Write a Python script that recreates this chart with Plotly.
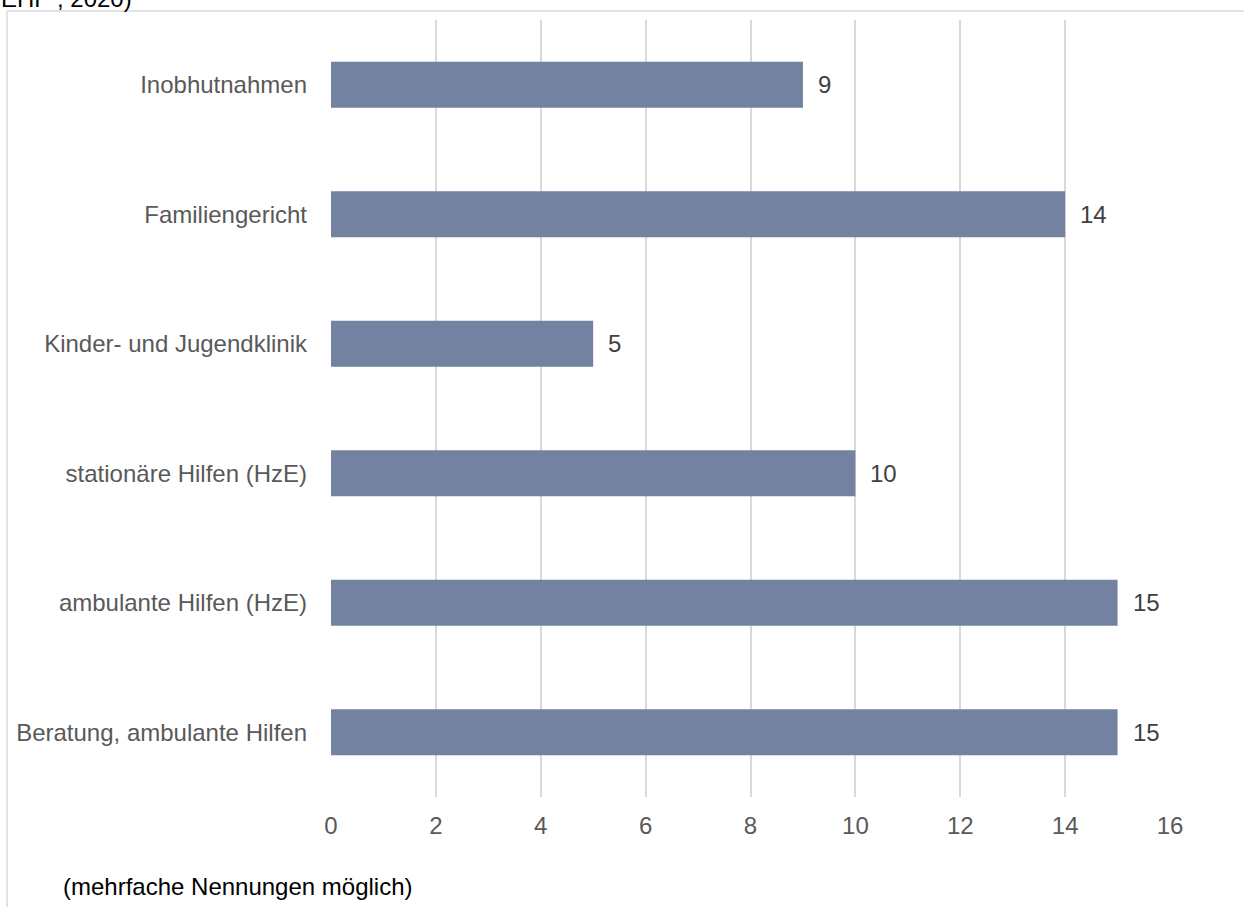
import plotly.graph_objects as go

categories = [
    "Inobhutnahmen",
    "Familiengericht",
    "Kinder- und Jugendklinik",
    "stationäre Hilfen (HzE)",
    "ambulante Hilfen (HzE)",
    "Beratung, ambulante Hilfen",
]
values = [9, 14, 5, 10, 15, 15]
x_ticks = [0, 2, 4, 6, 8, 10, 12, 14, 16]
note_text = "(mehrfache Nennungen möglich)"
top_text = "EHF“, 2020)"

W, H = 1244, 907
L, R, T, B = 331, 74, 20, 110
pw = W - L - R
ph = H - T - B


def px_x(px):
    return (px - L) / pw


def px_y(py):
    return (H - B - py) / ph


FONT = "Liberation Sans, Arial, sans-serif"
FS = 24

fig = go.Figure()
fig.add_trace(go.Bar(
    y=categories,
    x=values,
    orientation="h",
    width=0.355,
    marker=dict(color="#7282a0", line=dict(width=0)),
    hoverinfo="skip",
))

annotations = []
for c, v in zip(categories, values):
    annotations.append(dict(
        x=v, y=c, xref="x", yref="y", text=str(v), showarrow=False,
        xanchor="left", yanchor="middle", xshift=13,
        font=dict(family=FONT, size=FS, color="#404040"),
    ))

annotations.append(dict(
    x=px_x(61), y=px_y(886), xref="paper", yref="paper", text=note_text,
    showarrow=False, xanchor="left", yanchor="middle",
    font=dict(family=FONT, size=FS, color="#000000"),
))
annotations.append(dict(
    x=px_x(-1), y=px_y(14), xref="paper", yref="paper", text=top_text,
    showarrow=False, xanchor="left", yanchor="bottom",
    font=dict(family=FONT, size=FS, color="#000000"),
))

shapes = [
    dict(type="line", xref="paper", yref="paper",
         x0=px_x(7), x1=px_x(1300), y0=px_y(11), y1=px_y(11),
         line=dict(color="#d9d9d9", width=1.5), layer="below"),
    dict(type="line", xref="paper", yref="paper",
         x0=px_x(7), x1=px_x(7), y0=px_y(11), y1=px_y(960),
         line=dict(color="#d9d9d9", width=1.5), layer="below"),
]

fig.update_layout(
    width=W, height=H,
    margin=dict(l=L, r=R, t=T, b=B, pad=0),
    paper_bgcolor="white", plot_bgcolor="white",
    showlegend=False,
    annotations=annotations,
    shapes=shapes,
    xaxis=dict(
        range=[0, 16], tickvals=x_ticks, showgrid=True,
        gridcolor="#d9d9d9", gridwidth=1.5, zeroline=False,
        showline=False, ticks="", ticklabelstandoff=12,
        tickfont=dict(family=FONT, size=FS, color="#595959"),
        fixedrange=True,
    ),
    yaxis=dict(
        categoryorder="array", categoryarray=categories,
        autorange="reversed", showgrid=False, zeroline=False,
        showline=False, ticks="", ticklabelstandoff=23,
        tickfont=dict(family=FONT, size=FS, color="#595959"),
        fixedrange=True,
    ),
)

fig.write_html(
    "out.html",
    config={"displayModeBar": False},
    post_script="document.body.style.margin='0';document.body.style.overflow='hidden';",
)
